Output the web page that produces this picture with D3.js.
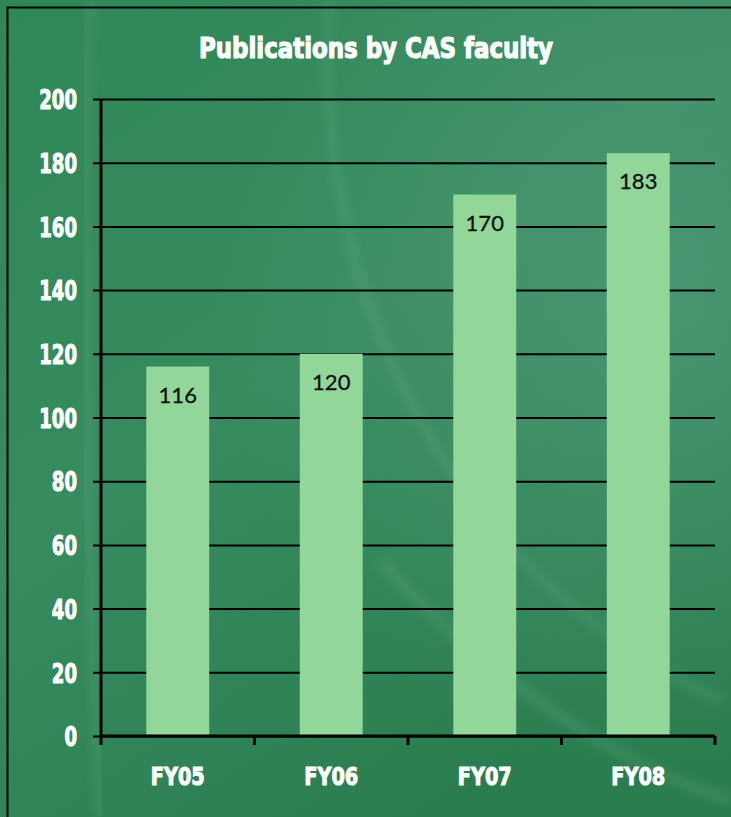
<!DOCTYPE html>
<html>
<head>
<meta charset="utf-8">
<script src="https://cdn.jsdelivr.net/npm/d3@7"></script>
<style>
  html, body { margin: 0; padding: 0; background: #2e8556; }
  svg { display: block; }
</style>
</head>
<body>
<div id="chart"></div>
<script>
// data
var categories = ['FY05', 'FY06', 'FY07', 'FY08']
var publications = [116, 120, 170, 183]
var yTicks = [0, 20, 40, 60, 80, 100, 120, 140, 160, 180, 200]
var chartTitle = 'Publications by CAS faculty'

var width = 731
var height = 817
var margin = { top: 99, right: 16, bottom: 81, left: 101 }
var heavyFont = 'DejaVu Sans Condensed, DejaVu Sans, sans-serif'

var svg = d3.select('#chart').append('svg')
  .attr('width', width)
  .attr('height', height)

var defs = svg.append('defs')

// background gradient
var bg = defs.append('linearGradient')
  .attr('id', 'bg')
  .attr('x1', 0).attr('y1', 0).attr('x2', 0.6).attr('y2', 1)
bg.append('stop').attr('offset', '0%').attr('stop-color', '#2f8757')
bg.append('stop').attr('offset', '50%').attr('stop-color', '#378b5f')
bg.append('stop').attr('offset', '100%').attr('stop-color', '#2a7d4f')

var glow = defs.append('radialGradient')
  .attr('id', 'glow')
  .attr('cx', 0.9).attr('cy', 0.35).attr('r', 0.6)
glow.append('stop').attr('offset', '0%').attr('stop-color', '#4f9a78').attr('stop-opacity', 0.8)
glow.append('stop').attr('offset', '100%').attr('stop-color', '#4f9a78').attr('stop-opacity', 0)

defs.append('filter').attr('id', 'blur')
  .append('feGaussianBlur').attr('stdDeviation', 5)

svg.append('rect').attr('width', width).attr('height', height).attr('fill', 'url(#bg)')
svg.append('rect').attr('width', width).attr('height', height).attr('fill', 'url(#glow)')

// soft streaks in the background
svg.append('path')
  .attr('d', 'M330,0 C310,250 420,560 720,700')
  .attr('fill', 'none')
  .attr('stroke', '#6fb592')
  .attr('stroke-opacity', 0.22)
  .attr('stroke-width', 8)
  .attr('filter', 'url(#blur)')
svg.append('path')
  .attr('d', 'M90,0 C82,300 88,600 100,817')
  .attr('fill', 'none')
  .attr('stroke', '#6fb592')
  .attr('stroke-opacity', 0.25)
  .attr('stroke-width', 8)
  .attr('filter', 'url(#blur)')
svg.append('path')
  .attr('d', 'M380,560 C470,660 600,760 731,800')
  .attr('fill', 'none')
  .attr('stroke', '#6fb592')
  .attr('stroke-opacity', 0.22)
  .attr('stroke-width', 10)
  .attr('filter', 'url(#blur)')

// outer frame
svg.append('rect')
  .attr('x', 7.5).attr('y', 7.5)
  .attr('width', width).attr('height', height)
  .attr('fill', 'none')
  .attr('stroke', '#000')
  .attr('stroke-width', 2)

var innerW = width - margin.left - margin.right
var innerH = height - margin.top - margin.bottom

var x = d3.scaleBand()
  .domain(categories)
  .range([0, innerW])
  .paddingInner(0.59)
  .paddingOuter(0.295)

var y = d3.scaleLinear()
  .domain([0, 200])
  .range([innerH, 0])

var g = svg.append('g')
  .attr('transform', 'translate(' + margin.left + ',' + margin.top + ')')

// title
svg.append('text')
  .attr('x', 376)
  .attr('y', 58)
  .attr('text-anchor', 'middle')
  .attr('fill', '#fff')
  .attr('stroke', '#fff')
  .attr('stroke-width', 1.2)
  .style('font-family', heavyFont)
  .style('font-weight', 'bold')
  .style('font-size', '29px')
  .attr('textLength', 354)
  .attr('lengthAdjust', 'spacingAndGlyphs')
  .text(chartTitle)

// gridlines + y axis
var yAxis = d3.axisLeft(y)
  .tickValues(yTicks)
  .tickSize(-innerW - 8)
  .tickPadding(16)
  .tickFormat(d3.format('d'))

var yG = g.append('g')
  .attr('transform', 'translate(-8,0)')
  .call(yAxis)
yG.select('.domain').remove()
yG.selectAll('.tick line')
  .attr('stroke', '#000')
  .attr('stroke-width', 2)
yG.selectAll('.tick text')
  .attr('fill', '#fff')
  .attr('stroke', '#fff')
  .attr('stroke-width', 1)
  .attr('dy', '0.36em')
  .attr('textLength', function (d) { return String(d).length * 12.6 })
  .attr('lengthAdjust', 'spacingAndGlyphs')
  .style('font-family', heavyFont)
  .style('font-weight', 'bold')
  .style('font-size', '27px')

// bars
g.selectAll('.bar')
  .data(publications)
  .enter().append('rect')
  .attr('class', 'bar')
  .attr('x', function (d, i) { return x(categories[i]) })
  .attr('y', function (d) { return y(d) })
  .attr('width', x.bandwidth())
  .attr('height', function (d) { return innerH - y(d) })
  .attr('fill', '#93d69a')

// value labels
g.selectAll('.val')
  .data(publications)
  .enter().append('text')
  .attr('class', 'val')
  .attr('x', function (d, i) { return x(categories[i]) + x.bandwidth() / 2 })
  .attr('y', function (d) { return y(d) + 36 })
  .attr('text-anchor', 'middle')
  .attr('fill', '#111')
  .attr('stroke', '#111')
  .attr('stroke-width', 0.3)
  .style('font-family', 'Lato, Open Sans, sans-serif')
  .style('font-size', '22px')
  .text(function (d) { return d })

// y axis line
g.append('line')
  .attr('x1', 0).attr('x2', 0)
  .attr('y1', 0).attr('y2', innerH)
  .attr('stroke', '#000')
  .attr('stroke-width', 3)

// x axis line with ticks at category boundaries
g.append('line')
  .attr('x1', 0).attr('x2', innerW)
  .attr('y1', innerH).attr('y2', innerH)
  .attr('stroke', '#000')
  .attr('stroke-width', 3)

var step = x.step()
var bounds = d3.range(categories.length + 1).map(function (i) { return i * step })
g.selectAll('.xtick')
  .data(bounds)
  .enter().append('line')
  .attr('x1', function (d) { return d }).attr('x2', function (d) { return d })
  .attr('y1', innerH).attr('y2', innerH + 9)
  .attr('stroke', '#000')
  .attr('stroke-width', 3)

g.selectAll('.xlab')
  .data(categories)
  .enter().append('text')
  .attr('x', function (d) { return x(d) + x.bandwidth() / 2 })
  .attr('y', innerH + 49)
  .attr('text-anchor', 'middle')
  .attr('fill', '#fff')
  .attr('stroke', '#fff')
  .attr('stroke-width', 1)
  .attr('textLength', 54)
  .attr('lengthAdjust', 'spacingAndGlyphs')
  .style('font-family', heavyFont)
  .style('font-weight', 'bold')
  .style('font-size', '25px')
  .text(function (d) { return d })
</script>
</body>
</html>
